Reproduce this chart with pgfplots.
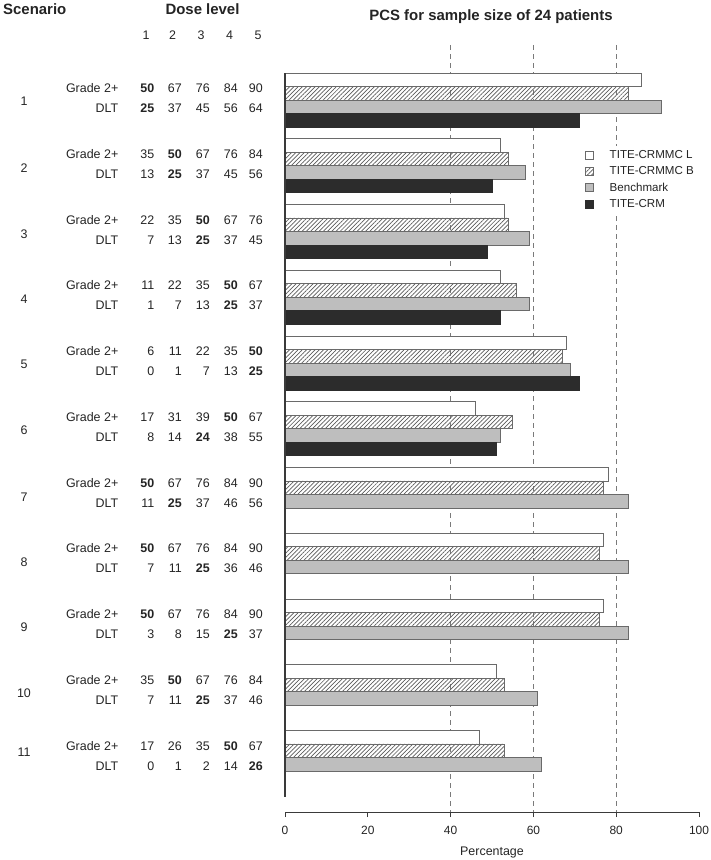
\documentclass[border=0pt]{standalone}
\usepackage{fontspec}
\setmainfont{Liberation Sans}
\usepackage{pgfplots}
\pgfplotsset{compat=1.18}
\usetikzlibrary{patterns.meta}
\definecolor{edge}{HTML}{6A6A6A}
\definecolor{gbar}{HTML}{BEBEBE}
\definecolor{kbar}{HTML}{2C2C2C}
\definecolor{axc}{HTML}{3A3A3A}
\definecolor{dashc}{HTML}{7A7A7A}
\definecolor{hatchc}{HTML}{5A5A5A}
\definecolor{txt}{HTML}{242424}
\newcommand\trow[6]{%
  \node[tn] at (154.5,#1) {#2};
  \node[tn] at (182,#1) {#3};
  \node[tn] at (210,#1) {#4};
  \node[tn] at (238,#1) {#5};
  \node[tn] at (263,#1) {#6};}
\begin{document}
\begin{tikzpicture}
\path[use as bounding box] (0,0) rectangle (711bp,-860bp);
\begin{axis}[
  at={(285bp,-812bp)}, anchor=south west,
  width=414bp, height=767bp, scale only axis,
  xmin=0, xmax=100, ymin=-11.829, ymax=-0.1635,
  clip=false,
  axis x line*=bottom, axis y line=none,
  x axis line style={-, color=axc, line width=0.8bp},
  xtick={0,20,40,60,80,100}, ytick=\empty,
  tick align=outside, major tick length=5bp,
  xtick style={color=axc, line width=0.8bp},
  /pgf/number format/assume math mode=true,
  xticklabel style={font=\fontsize{12}{14}\selectfont, text=txt, yshift=-6bp},
  xlabel={Percentage},
  xlabel style={font=\fontsize{12.5}{14}\selectfont, text=txt, yshift=-5bp},
  mybar/.style={xbar, bar width=0.205, line width=0.8bp,
    legend image code/.code={\draw[##1, line width=0.7bp] (0bp,-4bp) rectangle (8bp,4bp);}},
  legend style={at={(axis cs:71.7,-1.692)}, anchor=north west, draw=none, fill=white,
    inner sep=3bp, column sep=14bp, row sep=2.5bp,
    font=\fontsize{11.6}{14}\selectfont, text=txt,
    nodes={inner sep=2bp, anchor=west}},
  legend cell align=left,
]
\addplot[forget plot, color=dashc, line width=0.9bp, dash pattern=on 5bp off 4bp] coordinates {(40,-0.1635) (40,-11.829)};
\addplot[forget plot, color=dashc, line width=0.9bp, dash pattern=on 5bp off 4bp] coordinates {(60,-0.1635) (60,-11.829)};
\addplot[forget plot, color=dashc, line width=0.9bp, dash pattern=on 5bp off 4bp] coordinates {(80,-0.1635) (80,-11.829)};
% TITE-CRMMC L
\addplot[mybar, bar shift=0.308, fill=white, draw=edge] coordinates {
 (86,-1) (52,-2) (53,-3) (52,-4) (68,-5) (46,-6) (78,-7) (77,-8) (77,-9) (51,-10) (47,-11)};
% TITE-CRMMC B
\addplot[mybar, bar shift=0.103, draw=edge,
  pattern={Lines[angle=45, distance=3bp, line width=0.7bp]}, pattern color=hatchc] coordinates {
 (83,-1) (54,-2) (54,-3) (56,-4) (67,-5) (55,-6) (77,-7) (76,-8) (76,-9) (53,-10) (53,-11)};
% Benchmark
\addplot[mybar, bar shift=-0.103, fill=gbar, draw=edge] coordinates {
 (91,-1) (58,-2) (59,-3) (59,-4) (69,-5) (52,-6) (83,-7) (83,-8) (83,-9) (61,-10) (62,-11)};
% TITE-CRM
\addplot[mybar, bar shift=-0.308, fill=kbar, draw=kbar] coordinates {
 (71,-1) (50,-2) (49,-3) (52,-4) (71,-5) (51,-6)};
\addplot[forget plot, color=axc, line width=1.3bp] coordinates {(0,-0.5894) (0,-11.601)};
\legend{TITE-CRMMC L, TITE-CRMMC B, Benchmark, TITE-CRM}
\end{axis}
\begin{scope}[x=1bp, y=-1bp,
  tn/.style={anchor=base east, inner sep=0pt, font=\fontsize{12.5}{15}\selectfont, text=txt},
  hd/.style={anchor=base, inner sep=0pt, font=\bfseries\fontsize{15}{18}\selectfont, text=txt},
  sc/.style={anchor=base, inner sep=0pt, font=\fontsize{12.5}{15}\selectfont, text=txt}]
\node[hd, anchor=base west] at (3,14) {Scenario};
\node[hd] at (202.5,14) {Dose level};
\node[hd] at (491,20) {PCS for sample size of 24 patients};
\node[sc] at (146,39) {1};
\node[sc] at (172.5,39) {2};
\node[sc] at (201,39) {3};
\node[sc] at (229.5,39) {4};
\node[sc] at (258,39) {5};
% scenario labels
\node[sc] at (24,105.5) {1};
\node[sc] at (24,172.2) {2};
\node[sc] at (24,238.8) {3};
\node[sc] at (24,303.5) {4};
\node[sc] at (24,368.8) {5};
\node[sc] at (24,434.5) {6};
\node[sc] at (24,501.2) {7};
\node[sc] at (24,566.2) {8};
\node[sc] at (24,631.2) {9};
\node[sc] at (24,697.8) {10};
\node[sc] at (24,756.5) {11};
% row labels
\foreach \g/\d in {92.5/112.5, 158.25/178.25, 224/244, 289.75/309.75, 355.5/375.5, 421.25/441.25, 487/507, 552.75/572.75, 618.5/638.5, 684.25/704.25, 750/770}{
  \node[tn] at (118.5,\g) {Grade 2+};
  \node[tn] at (118.5,\d) {DLT};
}
\trow{92.5}{\textbf{50}}{67}{76}{84}{90}
\trow{112.5}{\textbf{25}}{37}{45}{56}{64}
\trow{158.25}{35}{\textbf{50}}{67}{76}{84}
\trow{178.25}{13}{\textbf{25}}{37}{45}{56}
\trow{224}{22}{35}{\textbf{50}}{67}{76}
\trow{244}{7}{13}{\textbf{25}}{37}{45}
\trow{289.75}{11}{22}{35}{\textbf{50}}{67}
\trow{309.75}{1}{7}{13}{\textbf{25}}{37}
\trow{355.5}{6}{11}{22}{35}{\textbf{50}}
\trow{375.5}{0}{1}{7}{13}{\textbf{25}}
\trow{421.25}{17}{31}{39}{\textbf{50}}{67}
\trow{441.25}{8}{14}{\textbf{24}}{38}{55}
\trow{487}{\textbf{50}}{67}{76}{84}{90}
\trow{507}{11}{\textbf{25}}{37}{46}{56}
\trow{552.75}{\textbf{50}}{67}{76}{84}{90}
\trow{572.75}{7}{11}{\textbf{25}}{36}{46}
\trow{618.5}{\textbf{50}}{67}{76}{84}{90}
\trow{638.5}{3}{8}{15}{\textbf{25}}{37}
\trow{684.25}{35}{\textbf{50}}{67}{76}{84}
\trow{704.25}{7}{11}{\textbf{25}}{37}{46}
\trow{750}{17}{26}{35}{\textbf{50}}{67}
\trow{770}{0}{1}{2}{14}{\textbf{26}}
\end{scope}
\end{tikzpicture}
\end{document}
